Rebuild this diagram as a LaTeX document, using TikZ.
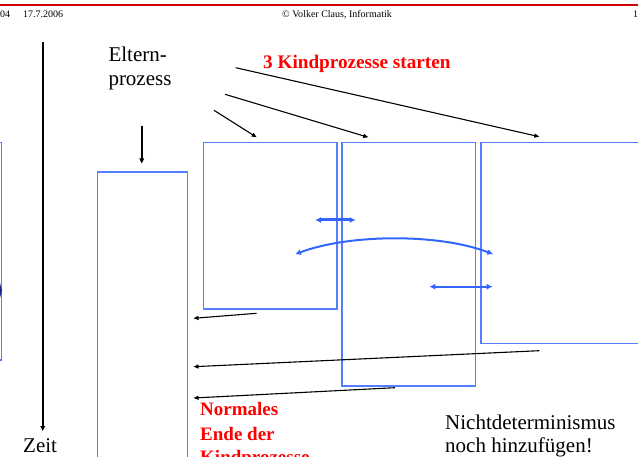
\documentclass[tikz,border=0pt]{standalone}
\usepackage{fontspec}
\setmainfont{Liberation Serif}
\usetikzlibrary{arrows.meta}
\definecolor{boxblue}{RGB}{85,125,255}
\definecolor{arrblue}{RGB}{51,102,255}
\definecolor{hdrred}{RGB}{210,0,0}
\definecolor{lblred}{RGB}{255,0,0}
\definecolor{darkblue}{RGB}{20,40,140}
\begin{document}
\begin{tikzpicture}[x=1pt,y=-1pt,
  procbox/.style={draw=boxblue, line width=1.5pt, inner sep=0pt, outer sep=0pt, anchor=north west},
  blk/.style={-{Triangle[length=5pt,width=4pt]}, line width=1.1pt},
  thickblk/.style={-{Triangle[length=5pt,width=4.5pt]}, line width=1.8pt},
  barr/.style={{Latex[length=6pt,width=6pt]}-{Latex[length=6pt,width=6pt]}, draw=arrblue, line width=2pt},
  txt/.style={anchor=base west, inner sep=0pt, font=\fontsize{21}{23}\selectfont},
  redlbl/.style={anchor=base west, inner sep=0pt, text=lblred, font=\fontsize{19}{23}\selectfont\bfseries},
  hdr/.style={anchor=base west, inner sep=0pt, font=\fontsize{10}{12}\selectfont}]
\useasboundingbox (0,0) rectangle (638,457);
\clip (0,0) rectangle (638,457);
\fill[white] (0,0) rectangle (638,457);

% header
\draw[hdrred, line width=2pt] (0,5.5) -- (638,5.5);
\node[hdr] (h1) at (0,18) {04};
\node[hdr] (h2) at (23,18) {17.7.2006};
\node[hdr] (h3) at (282,18) {© Volker Claus, Informatik};
\node[hdr] (h4) at (633,18) {1};

% boxes
\node[procbox, minimum width=21.5pt, minimum height=217.3pt] (prev) at (-20,142.7) {};
\fill[darkblue] (0,283) -- (2,290.5) -- (0,298) -- cycle;
\node[procbox, minimum width=90.4pt, minimum height=300pt] (parent) at (97.3,172) {};
\node[procbox, minimum width=133.3pt, minimum height=166.7pt] (k1) at (203.7,142.3) {};
\node[procbox, minimum width=133.6pt, minimum height=243.5pt] (k2) at (342,142.3) {};
\node[procbox, minimum width=200pt, minimum height=201pt] (k3) at (481,142.3) {};

% texts
\node[txt] (elt1) at (108.3,62) {Eltern-};
\node[txt] (elt2) at (108.3,86) {prozess};
\node[redlbl, font=\fontsize{19.2}{23}\selectfont\bfseries] (start) at (263,68.5) {3 Kindprozesse starten};
\node[txt] (zeit) at (23,452.5) {Zeit};
\node[redlbl] (n1) at (200,416) {Normales};
\node[redlbl] (n2) at (200,440) {Ende der};
\node[redlbl] (n3) at (200,464) {Kindprozesse};
\node[txt] (nd1) at (445,429.5) {Nichtdeterminismus};
\node[txt] (nd2) at (445,452.5) {noch hinzufügen!};

% coordinates
\coordinate (z0) at (42.7,42);
\coordinate (z1) at (42.7,431);
\coordinate (p0) at (141.7,126);
\coordinate (p1) at (141.7,163.5);
\coordinate (s1) at (214,110.3);
\coordinate (t1) at (256.7,137.3);
\coordinate (s2) at (225,94.3);
\coordinate (t2) at (368.3,137.3);
\coordinate (s3) at (235.7,67.7);
\coordinate (t3) at (539.3,136.7);
\coordinate (e1a) at (256.7,313.3);
\coordinate (e1b) at (193.5,318.3);
\coordinate (e2a) at (539.3,350.7);
\coordinate (e2b) at (193.5,366.7);
\coordinate (e3a) at (395,387.7);
\coordinate (e3b) at (193.5,398);
\coordinate (b1a) at (315,220);
\coordinate (b1b) at (355.7,220);
\coordinate (c1a) at (295,254.3);
\coordinate (c1b) at (493.3,254.3);
\coordinate (b3a) at (429.3,286.7);
\coordinate (b3b) at (492.7,286.7);

% arrows
\draw[thickblk] (z0) -- (z1);
\draw[thickblk] (p0) -- (p1);
\draw[blk] (s1) -- (t1);
\draw[blk] (s2) -- (t2);
\draw[blk] (s3) -- (t3);
\draw[blk] (e1a) -- (e1b);
\draw[blk] (e2a) -- (e2b);
\draw[blk] (e3a) -- (e3b);

\draw[barr, line width=3pt] (b1a) -- (b1b);
\draw[barr] (c1a) .. controls (350,233.6) and (440,233.6) .. (c1b);
\draw[barr] (b3a) -- (b3b);
\end{tikzpicture}
\end{document}
